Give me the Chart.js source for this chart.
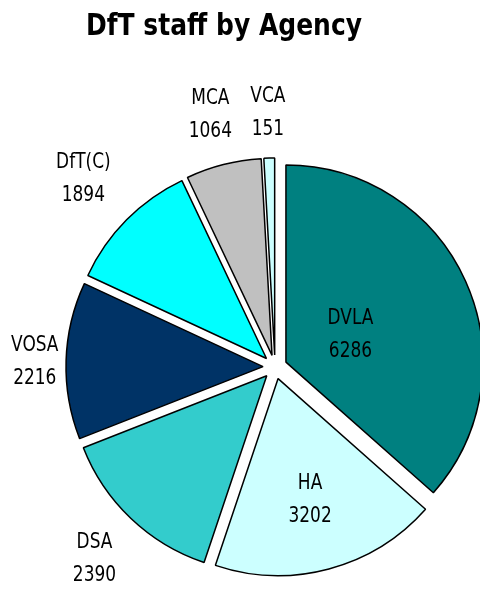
<!DOCTYPE html>
<html>
<head>
<meta charset="utf-8">
<script src="https://cdn.jsdelivr.net/npm/chart.js@4.4.0/dist/chart.umd.min.js"></script>
<style>
  html, body { margin: 0; padding: 0; background: #fff; }
  #wrap { position: relative; width: 480px; height: 590px; }
</style>
</head>
<body>
<div id="wrap"><canvas id="staffChart" width="480" height="590"></canvas></div>
<script>
// ---- data ----
var agencies = ['DVLA', 'HA', 'DSA', 'VOSA', 'DfT(C)', 'MCA', 'VCA'];
var staff = [6286, 3202, 2390, 2216, 1894, 1064, 151];
var sliceColours = ['#008080', '#CCFFFF', '#33CCCC', '#003366', '#00FFFF', '#C0C0C0', '#CCFFFF'];
var chartTitle = 'DfT staff by Agency';

// ---- look ----
var explode = 12;          // px each slice is pulled out
var labelDist = [0.42, 0.69, 1.33, 1.22, 1.37, 1.33, 1.30]; // x radius
var fontFace = '"DejaVu Sans", Verdana, sans-serif';

// pull every slice out along its own middle angle
var explodePlugin = {
  id: 'explode',
  afterDatasetsUpdate: function (chart) {
    var meta = chart.getDatasetMeta(0);
    meta.data.forEach(function (arc) {
      var mid = (arc.startAngle + arc.endAngle) / 2;
      arc.x += Math.cos(mid) * explode;
      arc.y += Math.sin(mid) * explode;
    });
  }
};

function stretchedText(ctx, text, x, y, sy) {
  ctx.save();
  ctx.translate(x, y);
  ctx.scale(1, sy);
  ctx.fillText(text, 0, 0);
  ctx.restore();
}

var labelPlugin = {
  id: 'sliceLabels',
  afterDraw: function (chart) {
    var ctx = chart.ctx;
    var area = chart.chartArea;
    var cx = (area.left + area.right) / 2;
    var cy = (area.top + area.bottom) / 2;
    var meta = chart.getDatasetMeta(0);
    ctx.save();
    ctx.fillStyle = '#000';
    ctx.textAlign = 'center';
    ctx.textBaseline = 'alphabetic';
    ctx.font = '17px ' + fontFace;
    meta.data.forEach(function (arc, i) {
      var mid = (arc.startAngle + arc.endAngle) / 2;
      var r = labelDist[i] * arc.outerRadius;
      var x = cx + Math.cos(mid) * r;
      var y = cy + Math.sin(mid) * r;
      stretchedText(ctx, agencies[i], x, y - 9, 1.29);
      stretchedText(ctx, String(staff[i]), x, y + 24, 1.29);
    });
    // title
    ctx.font = 'bold 25px ' + fontFace;
    stretchedText(ctx, chartTitle, 224, 35, 1.19);
    ctx.restore();
  }
};

new Chart(document.getElementById('staffChart'), {
  type: 'pie',
  data: {
    labels: agencies,
    datasets: [{
      data: staff,
      backgroundColor: sliceColours,
      borderColor: '#000',
      borderWidth: 1.5,
      clip: false
    }]
  },
  options: {
    responsive: false,
    animation: false,
    events: [],
    radius: 197,
    layout: { padding: { left: 70, top: 144, right: 0, bottom: 0 } },
    plugins: {
      legend: { display: false },
      tooltip: { enabled: false },
      title: { display: false }
    }
  },
  plugins: [explodePlugin, labelPlugin]
});
</script>
</body>
</html>
